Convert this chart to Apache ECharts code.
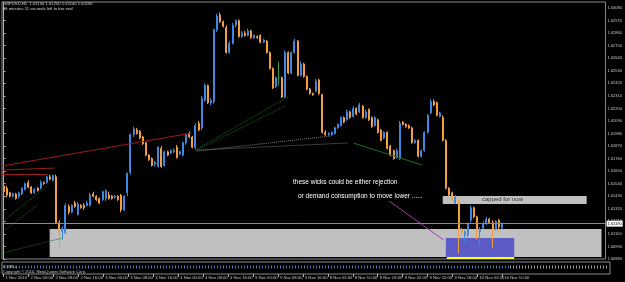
<!DOCTYPE html>
<html><head><meta charset="utf-8">
<script src="https://cdn.jsdelivr.net/npm/echarts@6/dist/echarts.min.js"></script>
<style>html,body{margin:0;padding:0;background:#000;}#c{width:625px;height:282px;}</style>
</head><body><div id="c"></div>
<script>
// ---- data (GBPUSD H1) ----
const opens=[1.6152,1.6150,1.6146,1.6143,1.6145,1.6143,1.6145,1.6149,1.6155,1.6151,
1.6146,1.6150,1.6150,1.6155,1.6155,1.6160,1.6157,1.6160,1.6120,1.6112,
1.6111,1.6134,1.6129,1.6137,1.6127,1.6135,1.6135,1.6135,1.6135,1.6145,
1.6143,1.6141,1.6140,1.6141,1.6144,1.6143,1.6142,1.6143,1.6144,1.6131,
1.6146,1.6164,1.6197,1.6201,1.6200,1.6195,1.6190,1.6179,1.6176,1.6171,
1.6169,1.6185,1.6170,1.6182,1.6181,1.6182,1.6186,1.6180,1.6179,1.6190,
1.6198,1.6195,1.6186,1.6207,1.6203,1.6227,1.6240,1.6225,1.6226,1.6289,
1.6302,1.6296,1.6291,1.6269,1.6277,1.6293,1.6297,1.6283,1.6286,1.6284,
1.6288,1.6282,1.6283,1.6284,1.6278,1.6279,1.6269,1.6255,1.6239,1.6247,
1.6247,1.6230,1.6269,1.6251,1.6269,1.6279,1.6249,1.6259,1.6248,1.6237,
1.6233,1.6235,1.6245,1.6232,1.6199,1.6197,1.6197,1.6198,1.6203,1.6205,
1.6212,1.6210,1.6217,1.6213,1.6220,1.6217,1.6222,1.6212,1.6219,1.6212,
1.6205,1.6210,1.6201,1.6194,1.6199,1.6187,1.6183,1.6177,1.6176,1.6208,
1.6206,1.6205,1.6203,1.6190,1.6192,1.6178,1.6183,1.6199,1.6216,1.6226,
1.6225,1.6213,1.6212,1.6192,1.6150,1.6146,1.6137,1.6138,1.6114,1.6109,
1.6109,1.6122,1.6133,1.6125,1.6112,1.6115,1.6119,1.6123,1.6120,1.6114,
1.6122,1.6115];
const closes=[1.6147,1.6144,1.6143,1.6145,1.6141,1.6146,1.6150,1.6154,1.6151,1.6146,
1.6149,1.6148,1.6155,1.6154,1.6160,1.6158,1.6161,1.6120,1.6112,1.6115,
1.6135,1.6129,1.6135,1.6134,1.6136,1.6133,1.6133,1.6137,1.6144,1.6143,
1.6140,1.6137,1.6147,1.6148,1.6141,1.6141,1.6143,1.6140,1.6131,1.6143,
1.6163,1.6197,1.6202,1.6198,1.6194,1.6189,1.6179,1.6175,1.6170,1.6173,
1.6186,1.6169,1.6182,1.6179,1.6183,1.6183,1.6177,1.6182,1.6190,1.6197,
1.6195,1.6186,1.6205,1.6201,1.6229,1.6240,1.6225,1.6227,1.6289,1.6301,
1.6296,1.6292,1.6269,1.6277,1.6293,1.6297,1.6283,1.6286,1.6284,1.6288,
1.6282,1.6284,1.6282,1.6278,1.6280,1.6269,1.6255,1.6238,1.6247,1.6247,
1.6230,1.6269,1.6251,1.6269,1.6279,1.6249,1.6259,1.6248,1.6237,1.6233,
1.6232,1.6244,1.6233,1.6199,1.6197,1.6198,1.6199,1.6203,1.6206,1.6212,
1.6208,1.6217,1.6212,1.6220,1.6215,1.6223,1.6212,1.6217,1.6210,1.6204,
1.6212,1.6199,1.6192,1.6199,1.6185,1.6179,1.6176,1.6183,1.6207,1.6206,
1.6204,1.6203,1.6190,1.6192,1.6178,1.6183,1.6199,1.6214,1.6226,1.6223,
1.6214,1.6216,1.6192,1.6150,1.6144,1.6140,1.6142,1.6113,1.6111,1.6112,
1.6119,1.6133,1.6125,1.6113,1.6114,1.6119,1.6123,1.6120,1.6114,1.6121,
1.6116,1.6119];
const lows=[1.6145,1.6142,1.6142,1.6142,1.6140,1.6141,1.6144,1.6148,1.6150,1.6145,
1.6145,1.6147,1.6149,1.6153,1.6154,1.6157,1.6156,1.6119,1.6098,1.6105,
1.6110,1.6127,1.6128,1.6133,1.6126,1.6132,1.6131,1.6134,1.6134,1.6142,
1.6139,1.6136,1.6139,1.6139,1.6140,1.6140,1.6141,1.6139,1.6129,1.6130,
1.6143,1.6162,1.6195,1.6197,1.6193,1.6188,1.6178,1.6174,1.6169,1.6169,
1.6168,1.6168,1.6169,1.6178,1.6180,1.6181,1.6176,1.6179,1.6178,1.6188,
1.6194,1.6185,1.6184,1.6200,1.6201,1.6226,1.6224,1.6223,1.6224,1.6287,
1.6295,1.6291,1.6268,1.6268,1.6276,1.6291,1.6282,1.6282,1.6283,1.6283,
1.6281,1.6281,1.6281,1.6277,1.6277,1.6268,1.6254,1.6237,1.6238,1.6240,
1.6229,1.6229,1.6250,1.6250,1.6268,1.6248,1.6248,1.6247,1.6236,1.6232,
1.6231,1.6234,1.6232,1.6198,1.6196,1.6196,1.6196,1.6197,1.6202,1.6204,
1.6207,1.6209,1.6211,1.6212,1.6214,1.6216,1.6211,1.6211,1.6209,1.6203,
1.6204,1.6198,1.6191,1.6193,1.6184,1.6178,1.6175,1.6176,1.6175,1.6205,
1.6203,1.6202,1.6189,1.6189,1.6177,1.6177,1.6182,1.6198,1.6215,1.6222,
1.6213,1.6212,1.6191,1.6149,1.6143,1.6139,1.6136,1.6093,1.6108,1.6103,
1.6107,1.6120,1.6124,1.6105,1.6100,1.6114,1.6118,1.6119,1.6098,1.6113,
1.6112,1.6114];
const highs=[1.6154,1.6152,1.6147,1.6146,1.6146,1.6147,1.6151,1.6155,1.6157,1.6152,
1.6150,1.6151,1.6157,1.6156,1.6161,1.6162,1.6162,1.6162,1.6122,1.6117,
1.6137,1.6136,1.6136,1.6139,1.6138,1.6136,1.6137,1.6139,1.6146,1.6147,
1.6144,1.6142,1.6148,1.6149,1.6147,1.6144,1.6144,1.6144,1.6145,1.6144,
1.6164,1.6198,1.6204,1.6203,1.6201,1.6196,1.6190,1.6180,1.6177,1.6174,
1.6187,1.6187,1.6183,1.6183,1.6184,1.6185,1.6188,1.6183,1.6191,1.6198,
1.6200,1.6196,1.6207,1.6209,1.6231,1.6242,1.6241,1.6229,1.6290,1.6303,
1.6304,1.6297,1.6293,1.6279,1.6295,1.6298,1.6298,1.6288,1.6288,1.6290,
1.6289,1.6285,1.6284,1.6285,1.6281,1.6280,1.6270,1.6256,1.6248,1.6261,
1.6248,1.6271,1.6270,1.6270,1.6281,1.6280,1.6261,1.6260,1.6249,1.6238,
1.6234,1.6246,1.6246,1.6233,1.6201,1.6199,1.6200,1.6204,1.6207,1.6213,
1.6213,1.6219,1.6218,1.6222,1.6221,1.6225,1.6223,1.6219,1.6220,1.6213,
1.6213,1.6211,1.6202,1.6200,1.6200,1.6188,1.6184,1.6185,1.6209,1.6209,
1.6207,1.6206,1.6204,1.6193,1.6193,1.6184,1.6200,1.6215,1.6228,1.6228,
1.6226,1.6217,1.6214,1.6193,1.6151,1.6147,1.6144,1.6140,1.6115,1.6113,
1.6120,1.6135,1.6134,1.6126,1.6116,1.6121,1.6125,1.6124,1.6122,1.6122,
1.6123,1.6120];
const tickLabels=['1 Nov 2010','2 Nov 00:00','2 Nov 08:00','2 Nov 16:00','3 Nov 00:00','3 Nov 08:00','3 Nov 16:00','4 Nov 00:00','4 Nov 08:00','4 Nov 16:00','5 Nov 00:00','5 Nov 08:00','5 Nov 16:00','8 Nov 02:00','8 Nov 10:00','8 Nov 18:00','9 Nov 02:00','9 Nov 10:00','9 Nov 18:00','10 Nov 02:00','10 Nov 10:00'];
const barsPerLabel=8;
const slotCount=195;           // bar slots incl. empty chart shift on the right
const priceMin=1.6088, priceMax=1.63133, priceStep=0.0011;

// ---- drawn objects (bar-slot index, price) ----
const zones=[
 {from:[14.9,1.61143],to:[193.2,1.60897],color:'#c0c0c0'},
 {from:[141.9,1.61432],to:[188.4,1.61362],color:'#c0c0c0'},
 {from:[142.9,1.61064],to:[165.0,1.60897],color:'#5c5cc6'},
 {from:[143.2,1.60897],to:[165.0,1.6088],color:'#ffff00'}
];
const drawnLines=[
 {from:[-0.5,1.61695],to:[60.8,1.61984],color:'#9a1c1c',type:'solid'},
 {from:[-0.5,1.61660],to:[16.5,1.61677],color:'#9a1c1c',type:'solid'},
 {from:[-0.5,1.61625],to:[14.2,1.61625],color:'#9a1c1c',type:'solid'},
 {from:[-0.5,1.61204],to:[13.3,1.61502],color:'#1f6e1f',type:[1,1]},
 {from:[-0.5,1.61117],to:[11.0,1.61353],color:'#1f6e1f',type:[1,1]},
 {from:[-0.5,1.60932],to:[19.1,1.61064],color:'#1f6e1f',type:[1,1]},
 {from:[62.4,1.61844],to:[91.9,1.62300],color:'#1f6e1f',type:[1,1]},
 {from:[62.4,1.61835],to:[90.9,1.62221],color:'#1f6e1f',type:[1,1]},
 {from:[62.4,1.61835],to:[111.1,1.61897],color:'#7a7a7a',type:[1,1]},
 {from:[62.4,1.61826],to:[105.7,1.61958],color:'#7a7a7a',type:[1,1]},
 {from:[113.0,1.61897],to:[135.2,1.61704],color:'#1f6e1f',type:'solid'},
 {from:[124.6,1.61388],to:[142.2,1.61046],color:'#a838a8',type:'solid'}
];

const FONT='"Liberation Sans", Arial, sans-serif';
const categories=Array.from({length:slotCount},(_,i)=>String(i));
const candleData=opens.map((o,i)=>[o,closes[i],lows[i],highs[i]]);
const lastClose=closes[closes.length-1];
const showTick=(i)=> i%barsPerLabel===0 && i/barsPerLabel<tickLabels.length;

const chart=echarts.init(document.getElementById('c'),null,{renderer:'canvas'});
chart.setOption({
 backgroundColor:'#000',
 animation:false,
 grid:[
  {left:2,top:2,width:608,height:257,show:true,borderColor:'#8a8a8a',borderWidth:1,backgroundColor:'transparent'},
  {left:2,top:262,width:608,height:12,show:true,borderColor:'#8a8a8a',borderWidth:1,backgroundColor:'transparent'}
 ],
 xAxis:[
  {type:'category',gridIndex:0,data:categories,boundaryGap:true,show:false},
  {type:'category',gridIndex:1,data:categories,boundaryGap:true,
   axisLine:{show:false},
   axisTick:{show:true,alignWithLabel:true,interval:(i)=>showTick(i),length:3,lineStyle:{color:'#b0b0b0',width:1}},
   axisLabel:{interval:(i)=>showTick(i),formatter:(v)=>tickLabels[Number(v)/barsPerLabel]||'',align:'left',margin:2,padding:[0,0,0,2],
     color:'#c8c8c8',fontSize:4.2,fontFamily:FONT},
   splitLine:{show:false}},
  {type:'value',gridIndex:0,min:-0.5,max:slotCount-0.5,show:false}
 ],
 yAxis:[
  {type:'value',gridIndex:0,position:'right',min:priceMin,max:priceMax,interval:priceStep,
   axisLine:{show:true,lineStyle:{color:'#b0b0b0'}},
   axisTick:{show:true,length:2,lineStyle:{color:'#b0b0b0'}},
   axisLabel:{show:true,showMaxLabel:false,margin:2,color:'#c8c8c8',fontSize:4,fontFamily:FONT,formatter:(v)=>v.toFixed(5)},
   splitLine:{show:false}},
  {type:'value',gridIndex:1,show:false,min:0,max:1}
 ],
 series:[
  {type:'line',xAxisIndex:2,yAxisIndex:0,data:[],silent:true,z:1,
   markArea:{silent:true,z:1,data:zones.map(z=>[{coord:z.from,itemStyle:{color:z.color,opacity:1}},{coord:z.to}])},
   markLine:{silent:true,symbol:['none','none'],label:{show:false},
     data:drawnLines.map(l=>[{coord:l.from,lineStyle:{color:l.color,type:l.type,width:1}},{coord:l.to}]).concat([
       [{coord:[-0.5,lastClose],lineStyle:{color:'#8c8c8c',type:'solid',width:1},
         label:{show:true,position:'end',distance:1,formatter:()=>lastClose.toFixed(5),backgroundColor:'#ffffff',color:'#000',fontSize:4,fontFamily:FONT,padding:[1,1]}},
        {coord:[slotCount-0.5,lastClose]}]
     ])}
  },
  {type:'candlestick',xAxisIndex:0,yAxisIndex:0,data:candleData,barWidth:1.5,z:3,
   itemStyle:{color:'#3d88e0',color0:'#f29e42',borderColor:'#3d88e0',borderColor0:'#f29e42',borderColorDoji:'#3a9a3a',borderWidth:1}
  }
 ],
 graphic:[
  {type:'text',left:3,top:2,silent:true,style:{text:'GBPUSD,H1  1.61150 1.61200 1.61140 1.61190',fill:'#d0d0d0',font:'4.2px '+FONT}},
  {type:'text',left:3,top:7,silent:true,style:{text:'15 minutes 11 seconds left to bar end',fill:'#d0d0d0',font:'4.2px '+FONT}},
  {type:'text',left:293,top:179,silent:true,style:{text:'these wicks could be either rejection',fill:'#ffffff',font:'6.5px '+FONT}},
  {type:'text',left:298,top:193,silent:true,style:{text:'or demand consumption to move lower ......',fill:'#ffffff',font:'6.5px '+FONT}},
  {type:'text',left:482,top:196.5,silent:true,z:10,style:{text:'capped for now',fill:'#333333',font:'6px '+FONT}},
  {type:'line',silent:true,shape:{x1:4,y1:267,x2:510,y2:267},style:{stroke:'#4b6fae',lineWidth:3,lineDash:[1,2]}},
  {type:'line',silent:true,shape:{x1:510,y1:267,x2:608,y2:267},style:{stroke:'#9a9a9a',lineWidth:3,lineDash:[1,2]}},
  {type:'text',left:3,top:264.5,silent:true,style:{text:'ICWR.a',fill:'#c8c8c8',font:'4px '+FONT}},
  {type:'text',left:3,top:269.5,silent:true,style:{text:'Copyright © 2010, MetaQuotes Software Corp.',fill:'#c8c8c8',font:'4px '+FONT}}
 ]
});
</script></body></html>
